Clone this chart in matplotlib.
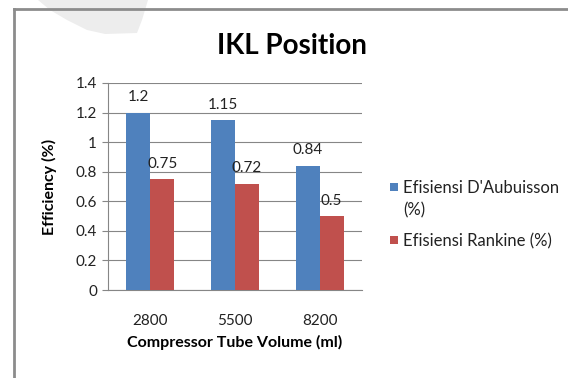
import matplotlib
matplotlib.use("Agg")
import numpy as np
from matplotlib import pyplot as plt
from matplotlib.patches import Polygon, Rectangle
from matplotlib.lines import Line2D

volumes = ['2800', '5500', '8200']
aubuisson = [1.2, 1.15, 0.84]
rankine = [0.75, 0.72, 0.5]
series_names = ["Efisiensi D'Aubuisson\n(%)", 'Efisiensi Rankine (%)']
yticks = [0, 0.2, 0.4, 0.6, 0.8, 1.0, 1.2, 1.4]
ytick_labels = ['0', '0.2', '0.4', '0.6', '0.8', '1', '1.2', '1.4']
colors = ['#4F81BD', '#C0504D']

plt.rcParams['font.family'] = ['Lato', 'DejaVu Sans']

W, H = 568, 378
fig = plt.figure(figsize=(W / 100, H / 100), dpi=100)


def fx(px):
    return px / W


def fy(py):
    return 1 - py / H


# faint grey shape behind the top left corner
blob = [(38, 0), (50, 10), (67, 20), (87, 30), (105, 34), (137, 33), (142, 20), (148, 0)]
fig.patches.append(Polygon([(fx(a), fy(b)) for a, b in blob], closed=True,
                           transform=fig.transFigure, facecolor='#ededed',
                           edgecolor='none', zorder=0))

# chart frame (left and top edges)
fig.add_artist(Line2D([fx(14), fx(14)], [0, fy(9)], transform=fig.transFigure,
                      color='#8c8c8c', linewidth=2))
fig.add_artist(Line2D([fx(14), 1], [fy(9), fy(9)], transform=fig.transFigure,
                      color='#8c8c8c', linewidth=2))

ax = fig.add_axes([fx(108), fy(290), 254 / W, 207 / H])

x = np.arange(len(volumes))
w = 0.283
b1 = ax.bar(x - w / 2, aubuisson, w, color=colors[0], zorder=3)
b2 = ax.bar(x + w / 2, rankine, w, color=colors[1], zorder=3)

for bars, vals in ((b1, aubuisson), (b2, rankine)):
    for bar, v in zip(bars, vals):
        ax.annotate(f'{v:g}', (bar.get_x() + bar.get_width() / 2, v),
                    xytext=(0, 6), textcoords='offset points',
                    ha='center', va='bottom', fontsize=11, color='#222222')

ax.set_xlim(-0.5, 2.5)
ax.set_ylim(0, 1.4)
ax.set_yticks(yticks)
ax.set_yticklabels(ytick_labels)
ax.set_xticks(x)
ax.set_xticklabels(volumes)
ax.tick_params(axis='y', length=4, color='#868686', labelsize=11, pad=4, labelcolor='#222222')
ax.tick_params(axis='x', length=0, labelsize=11, pad=17, labelcolor='#222222')
ax.yaxis.grid(True, color='#868686', linewidth=0.8, zorder=0)
ax.set_axisbelow(True)
for s in ('top', 'right'):
    ax.spines[s].set_visible(False)
for s in ('left', 'bottom'):
    ax.spines[s].set_color('#868686')
    ax.spines[s].set_linewidth(0.8)

ax.set_xlabel('Compressor Tube Volume (ml)', fontsize=11.5, fontweight='bold', labelpad=5)
ax.set_ylabel('Efficiency (%)', fontsize=11.5, fontweight='bold', labelpad=13)
fig.text(fx(292), fy(46), 'IKL Position', ha='center', va='center',
         fontsize=20, fontweight='bold')

# legend on the right, square beside the first line of each entry
legend_rows = [187, 240]
for name, c, row in zip(series_names, colors, legend_rows):
    fig.patches.append(Rectangle((fx(390), fy(row + 4)), 8 / W, 8 / H,
                                 transform=fig.transFigure, facecolor=c,
                                 edgecolor='none'))
    fig.text(fx(403), fy(row - 7), name, ha='left', va='top', fontsize=12,
             color='#222222', linespacing=1.45)

fig.savefig('out.png', dpi=100)
